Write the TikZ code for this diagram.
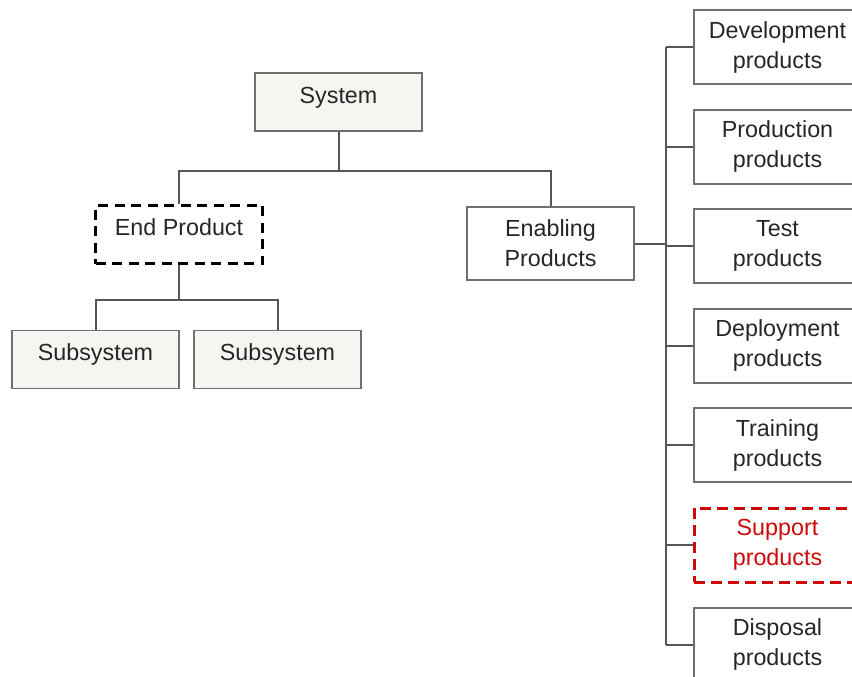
\documentclass[tikz,border=0pt]{standalone}
\usepackage{fontspec}
\setmainfont{Liberation Sans}
\definecolor{boxfill}{RGB}{246,245,241}
\definecolor{boxline}{RGB}{112,112,112}
\definecolor{wireline}{RGB}{85,85,85}
\definecolor{suppred}{RGB}{204,8,8}
\begin{document}
\begin{tikzpicture}[x=1pt,y=-1pt,
    font=\fontsize{23.3}{30}\selectfont,
    box/.style={draw=boxline,line width=1.9pt,minimum width=167pt,minimum height=74pt,align=center,inner sep=0pt,text=black!85},
    onebox/.style={box,minimum height=58pt,text height=17pt,text depth=15pt},
    wire/.style={draw=wireline,line width=2pt}]
    \useasboundingbox(0,0)rectangle(852,677);
    \clip(0,0)rectangle(852,677);

    \node[onebox,fill=boxfill](sys)at(338.5,102){System};
    \node[onebox,draw=black,line width=3pt,dash pattern=on 10pt off 6.5pt](endp)at(179,234.5){End Product};
    \node[box,minimum height=73pt](enab)at(550.5,243.5){Enabling\\Products};
    \node[onebox,fill=boxfill](sub1)at(95.5,359.5){Subsystem};
    \node[onebox,fill=boxfill](sub2)at(277.5,359.5){Subsystem};

    \node[box](p1)at(777.5,47){Development\\products};
    \node[box](p2)at(777.5,146.6){Production\\products};
    \node[box](p3)at(777.5,246.2){Test\\products};
    \node[box](p4)at(777.5,345.8){Deployment\\products};
    \node[box](p5)at(777.5,445.4){Training\\products};
    \node[box,draw=suppred,text=suppred,line width=3pt,dash pattern=on 11pt off 6pt](p6)at(777.5,545){Support\\products};
    \node[box](p7)at(777.5,644.6){Disposal\\products};

    \draw[wire](sys.south)--++(0,39)coordinate(j1)-|(endp.north);
    \draw[wire](j1)-|(enab.north);
    \draw[wire](endp.south)--++(0,35)coordinate(j2)-|(sub1.north);
    \draw[wire](j2)-|(sub2.north);
    \draw[wire](enab.east)--++(31,0)coordinate(bus);
    \draw[wire](bus|-p1.west)--(bus|-p7.west);
    \foreach \i in {1,...,7}
        \draw[wire](bus|-p\i.west)--(p\i.west);
\end{tikzpicture}
\end{document}
